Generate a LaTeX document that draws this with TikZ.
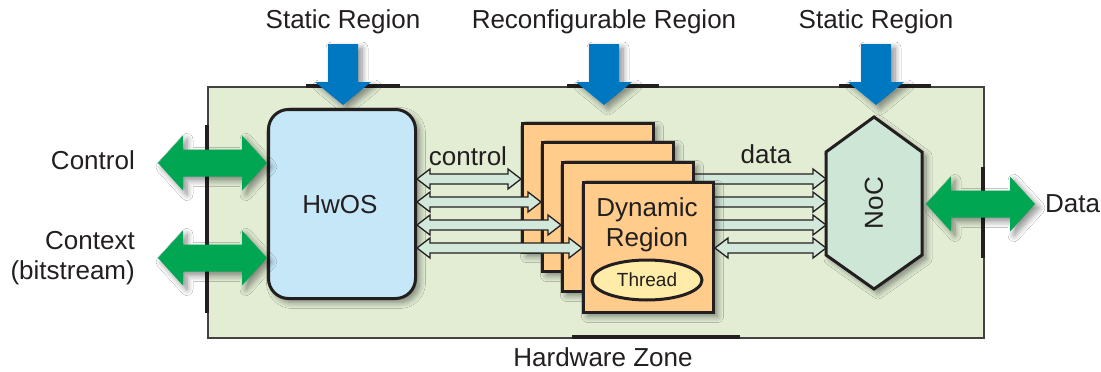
\documentclass[tikz,border=0pt]{standalone}
\usepackage{fontspec}
\setmainfont{Liberation Sans}
\usetikzlibrary{shadows.blur,shapes.geometric,calc}
\definecolor{zone}{HTML}{E2EDD4}
\definecolor{hwosc}{HTML}{C6E7F8}
\definecolor{dyn}{HTML}{FFCC8C}
\definecolor{threadc}{HTML}{FFECA8}
\definecolor{nocc}{HTML}{CDE6D6}
\definecolor{linkc}{HTML}{D2E8DA}
\definecolor{bgreen}{HTML}{00A651}
\definecolor{bblue}{HTML}{0077C1}
\definecolor{ink}{HTML}{231F20}
% double-headed block arrow: style, from, to, shaft half, head half, head length
\newcommand\twoway[6]{%
  \path[#1] let \p1=(#2), \p2=(#3) in
    (\x1,\y1) -- (\x1+#6,\y1+#5) -- (\x1+#6,\y1+#4) -- (\x2-#6,\y2+#4)
    -- (\x2-#6,\y2+#5) -- (\x2,\y2) -- (\x2-#6,\y2-#5) -- (\x2-#6,\y2-#4)
    -- (\x1+#6,\y1-#4) -- (\x1+#6,\y1-#5) -- cycle;}
% single-headed block arrow pointing to the second point
\newcommand\oneway[6]{%
  \path[#1] let \p1=(#2), \p2=(#3) in
    (\x1,\y1+#4) -- (\x2-#6,\y2+#4) -- (\x2-#6,\y2+#5) -- (\x2,\y2)
    -- (\x2-#6,\y2-#5) -- (\x2-#6,\y2-#4) -- (\x1,\y1-#4) -- cycle;}
% downward block arrow
\newcommand\downway[6]{%
  \path[#1] let \p1=(#2), \p2=(#3) in
    (\x1-#4,\y1) -- (\x1+#4,\y1) -- (\x2+#4,\y2+#6) -- (\x2+#5,\y2+#6)
    -- (\x2,\y2) -- (\x2-#5,\y2+#6) -- (\x2-#4,\y2+#6) -- cycle;}
\tikzset{
  lbl/.style={font=\fontsize{26}{30}\selectfont, text=ink, inner sep=0pt},
  soft/.style={blur shadow={shadow xshift=4pt, shadow yshift=-4pt, shadow blur radius=6pt, shadow blur steps=8, shadow opacity=45}},
  zonebox/.style={draw=ink!85, line width=1.5pt, fill=zone, inner sep=0pt, anchor=north west},
  thickseg/.style={draw=ink, line width=3.5pt},
  hwbox/.style={draw=ink, line width=3pt, fill=hwosc, rounded corners=20pt, inner sep=0pt, anchor=north west, soft},
  dynbox/.style={draw=ink, line width=3pt, fill=dyn, inner sep=0pt, anchor=north west, minimum width=131pt, minimum height=129pt, soft},
  threadbox/.style={draw=ink, line width=3pt, fill=threadc, ellipse, inner sep=0pt, minimum width=110pt, minimum height=40pt, font=\fontsize{19}{22}\selectfont, text=ink},
  nocshape/.style={draw=ink, line width=3pt, fill=nocc, line join=miter, soft},
  link/.style={draw=ink, line width=1.3pt, fill=linkc, line join=miter},
  bigg/.style={fill=bgreen, soft},
  bigb/.style={fill=bblue, soft},
}
\begin{document}
\begin{tikzpicture}[x=1pt,y=-1pt]
\useasboundingbox[fill=white] (0,0) rectangle (1101,372);

% hardware zone
\node[zonebox, minimum width=776pt, minimum height=251pt] (zone) at (207,86) {};
\draw[thickseg] (207,125) -- (207,313);
\draw[thickseg] (983,167) -- (983,258);
\draw[thickseg] (306,86) -- (400,86);
\draw[thickseg] (567,86) -- (659,86);
\draw[thickseg] (839,86) -- (931,86);
\draw[thickseg] (572,337) -- (740,337);
\node[lbl, anchor=base] (hz) at (603,366) {Hardware Zone};

% top labels and blue arrows
\node[lbl] (sr1) at (343,22) {Static Region};
\node[lbl] (rr) at (604,22) {Reconfigurable Region};
\node[lbl] (sr2) at (876,22) {Static Region};
\coordinate (b1s) at (343,44); \coordinate (b1e) at (343,105);
\coordinate (b2s) at (604,44); \coordinate (b2e) at (604,105);
\coordinate (b3s) at (876,44); \coordinate (b3e) at (876,105);
\downway{bigb}{b1s}{b1e}{15pt}{28pt}{23pt}
\downway{bigb}{b2s}{b2e}{15pt}{28pt}{23pt}
\downway{bigb}{b3s}{b3e}{15pt}{28pt}{23pt}

% HwOS
\node[hwbox, minimum width=147pt, minimum height=189pt] (hwos) at (267,108) {};
\node[lbl] (hwt) at (340,205) {HwOS};

% NoC corners
\coordinate (nT) at (874,117); \coordinate (nUR) at (922,152);
\coordinate (nLR) at (922,255); \coordinate (nB) at (874,289);
\coordinate (nLL) at (826,255); \coordinate (nUL) at (826,152);

% side labels and green arrows
\node[lbl, anchor=east] (lc) at (135,160) {Control};
\node[lbl, anchor=east, align=right] (lx) at (135,258) {Context\\(bitstream)};
\node[lbl, anchor=west] (ld) at (1045,204) {Data};
\coordinate (gc) at (158,163); \coordinate (gx) at (158,258);
\coordinate (gd) at (1035,204);
\twoway{bigg}{gc}{hwos.west |- 0,163}{13.5pt}{27.5pt}{25pt}
\twoway{bigg}{gx}{hwos.west |- 0,258}{13.5pt}{27.5pt}{25pt}

% NoC
\path[nocshape] (nT) -- (nUR) -- (nLR) -- (nB) -- (nLL) -- (nUL) -- cycle;
\node[lbl, rotate=90] (noc) at (874,203) {NoC};
\coordinate (gdl) at (926,204);
\twoway{bigg}{gdl}{gd}{13.5pt}{27.5pt}{25pt}

% link coordinates
\coordinate (s1) at (690,179);
\coordinate (s2) at (690,202);
\coordinate (s3) at (690,225);

% data links (under the stack)
\oneway{link}{s1}{nUL |- 0,179}{5pt}{10pt}{13pt}
\oneway{link}{s2}{nUL |- 0,202}{5pt}{10pt}{13pt}
\oneway{link}{s3}{nUL |- 0,225}{5pt}{10pt}{13pt}

% dynamic region stack
\node[dynbox] (d1) at (521,122) {};
\node[dynbox] (d2) at (541,141) {};
\node[dynbox] (d3) at (561,161) {};
\node[dynbox, minimum width=130pt, minimum height=130pt] (d4) at (582,181) {};
\node[lbl, align=center] (dyt) at (647,225) {Dynamic\\Region};
\node[threadbox] (thr) at (647,280) {Thread};

% control links
\twoway{link}{hwos.east |- 0,179}{d1.west |- 0,179}{5pt}{10pt}{13pt}
\twoway{link}{hwos.east |- 0,202}{d2.west |- 0,202}{5pt}{10pt}{13pt}
\twoway{link}{hwos.east |- 0,225}{d3.west |- 0,225}{5pt}{10pt}{13pt}
\twoway{link}{hwos.east |- 0,248}{d4.west |- 0,248}{5pt}{10pt}{13pt}
\twoway{link}{d4.east |- 0,248}{nUL |- 0,248}{5pt}{10pt}{13pt}
\node[lbl] (ctl) at (468,156) {control};
\node[lbl] (dat) at (766,154) {data};
\end{tikzpicture}
\end{document}
